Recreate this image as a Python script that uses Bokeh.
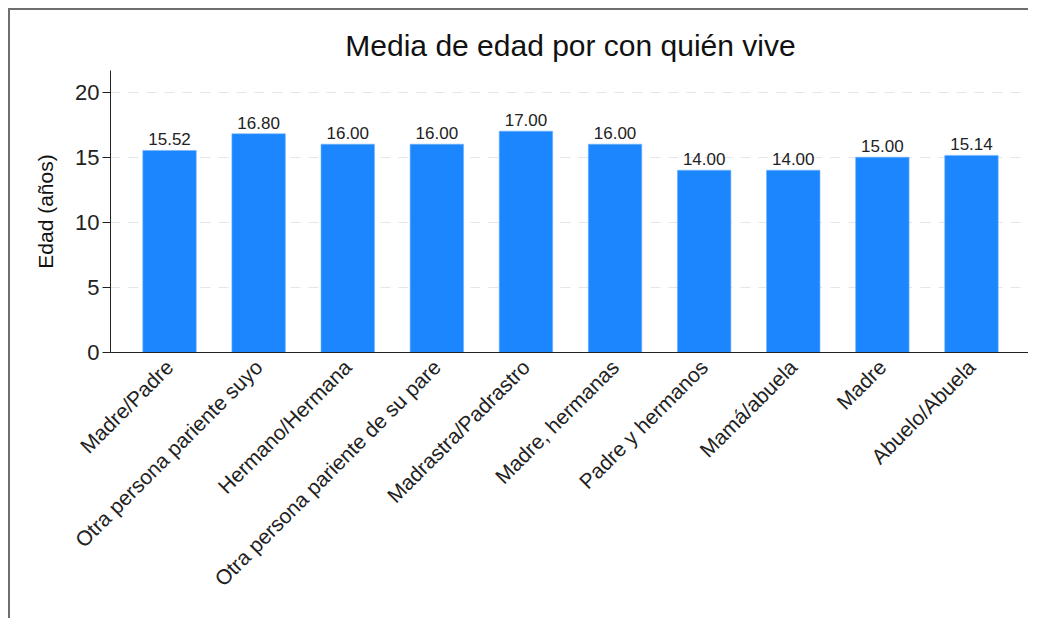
import math
from bokeh.plotting import figure
from bokeh.models import ColumnDataSource, FactorRange, Range1d, FixedTicker, LabelSet
from bokeh.core.properties import value
from bokeh.embed import file_html
from bokeh.resources import INLINE

categories = [
    "Madre/Padre",
    "Otra persona pariente suyo",
    "Hermano/Hermana",
    "Otra persona pariente de su pare",
    "Madrastra/Padrastro",
    "Madre, hermanas",
    "Padre y hermanos",
    "Mamá/abuela",
    "Madre",
    "Abuelo/Abuela",
]
mean_age = [15.52, 16.80, 16.00, 16.00, 17.00, 16.00, 14.00, 14.00, 15.00, 15.14]
y_ticks = [0, 5, 10, 15, 20]

FONT = "Liberation Sans"

src = ColumnDataSource(dict(
    cat=categories,
    val=mean_age,
    lab=[f"{v:.2f}" for v in mean_age],
))

p = figure(
    x_range=FactorRange(factors=categories, range_padding=0.1625, range_padding_units="absolute"),
    y_range=Range1d(0, 21.66),
    width=1020, height=610,
    output_backend="svg", toolbar_location=None,
    min_border_left=100, min_border_right=0, min_border_top=60, min_border_bottom=268,
    title="Media de edad por con quién vive",
)
p.styles = {"border-left": "2px solid #6e6e6e", "border-top": "2px solid #6e6e6e",
            "margin-left": "8px", "margin-top": "8px"}

p.vbar(x="cat", top="val", width=0.6, source=src, fill_color="#1c86fe",
       line_color="#6fb4ff", line_width=0.6)

labels = LabelSet(x="cat", y="val", text="lab", source=src, text_align="center",
                  text_baseline="bottom", y_offset=5, text_font=value(FONT),
                  text_font_size=value("17px"), text_color=value("#222222"))
p.add_layout(labels)

p.title.align = "center"
p.title.text_font = FONT
p.title.text_font_size = "30px"
p.title.text_font_style = "normal"
p.title.text_color = "#111111"
p.title.standoff = 17

p.outline_line_color = None
p.background_fill_color = "white"
p.border_fill_color = "white"

# grid
p.xgrid.grid_line_color = None
p.ygrid.ticker = FixedTicker(ticks=[5, 10, 15, 20])
p.ygrid.grid_line_color = "#e6e6e6"
p.ygrid.grid_line_dash = "10 8"
p.ygrid.grid_line_width = 1.2

# y axis
p.yaxis.ticker = FixedTicker(ticks=y_ticks)
p.yaxis.axis_label = "Edad (años)"
p.yaxis.axis_label_text_font = FONT
p.yaxis.axis_label_text_font_size = "21px"
p.yaxis.axis_label_text_font_style = "normal"
p.yaxis.axis_label_text_color = "#111111"
p.yaxis.axis_label_standoff = 15
p.yaxis.major_label_text_font = FONT
p.yaxis.major_label_text_font_size = "22px"
p.yaxis.major_label_text_color = "#222222"
p.yaxis.major_label_standoff = 3
p.yaxis.major_tick_out = 8
p.yaxis.major_tick_in = 0
p.yaxis.minor_tick_out = 0
p.yaxis.minor_tick_in = 0
p.yaxis.axis_line_color = "#222222"
p.yaxis.major_tick_line_color = "#222222"

# x axis
p.xaxis.major_label_orientation = math.pi / 4
p.xaxis.major_label_text_font = FONT
p.xaxis.major_label_text_font_size = "21px"
p.xaxis.major_label_text_color = "#222222"
p.xaxis.major_label_standoff = 11
p.xaxis.major_tick_out = 0
p.xaxis.major_tick_in = 0
p.xaxis.axis_line_color = "#222222"

open("out.html", "w").write(file_html(p, INLINE))
